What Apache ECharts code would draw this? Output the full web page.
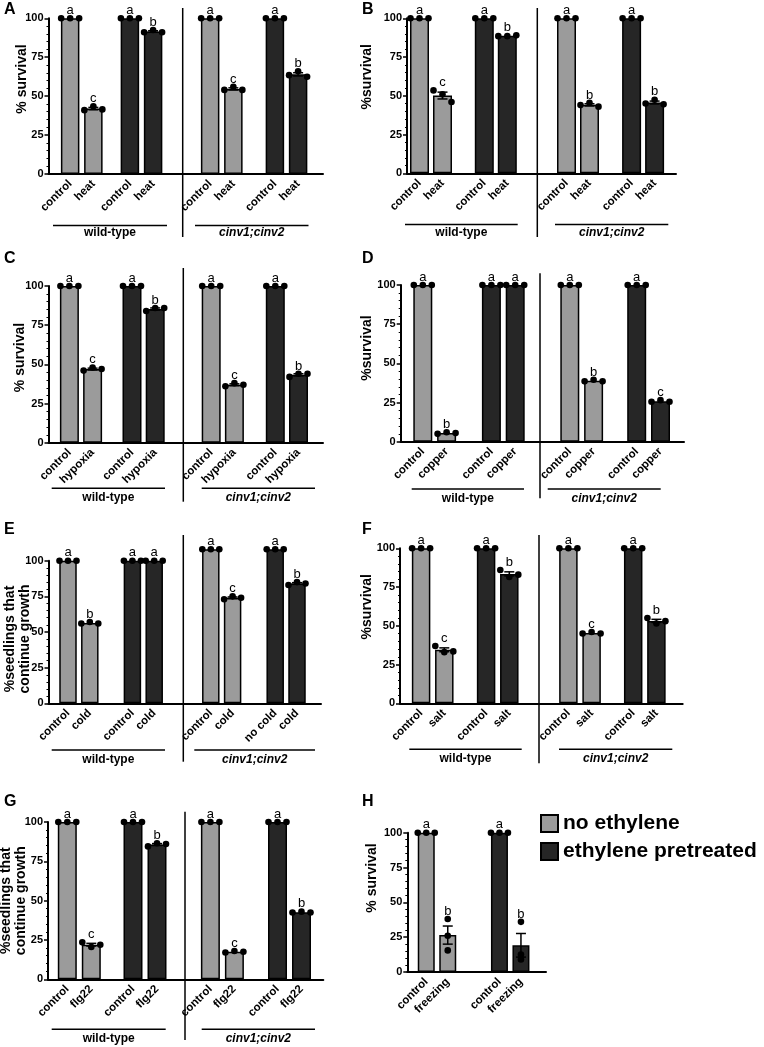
<!DOCTYPE html>
<html>
<head>
<meta charset="utf-8">
<script src="https://cdn.jsdelivr.net/npm/echarts@6/dist/echarts.min.js"></script>
<style>
  html, body { margin: 0; padding: 0; background: #fff; }
  #chart { width: 764px; height: 1047px; }
</style>
</head>
<body>
<div id="chart"></div>
<script>
const FONT = '"Liberation Sans", Arial, Helvetica, sans-serif';
const GREY = '#9b9b9b';
const DARK = '#262626';

const treatments = ['no ethylene', 'ethylene pretreated'];
const genotypes = ['wild-type', 'cinv1;cinv2'];
const yTicks = [0, 25, 50, 75, 100];
const panelTags = ['A', 'B', 'C', 'D', 'E', 'F', 'G', 'H'];
const yTitles = ['% survival', '%survival', '% survival', '%survival',
  '%seedlings that\ncontinue growth', '%survival', '%seedlings that\ncontinue growth', '% survival'];

// bar order: wt no-eth control, wt no-eth stress, wt eth control, wt eth stress, then the same for cinv1;cinv2
const labelsA = ['control', 'heat', 'control', 'heat', 'control', 'heat', 'control', 'heat'];
const repsA = [[100, 100, 100], [41, 43.5, 41.5], [100, 100, 100], [91, 92.5, 91],
  [100, 100, 100], [54, 56, 54], [100, 100, 100], [63.5, 66, 62.5]];
const lettersA = ['a', 'c', 'a', 'b', 'a', 'c', 'a', 'b'];

const labelsB = ['control', 'heat', 'control', 'heat', 'control', 'heat', 'control', 'heat'];
const repsB = [[100, 100, 100], [53.5, 51, 46], [100, 100, 100], [88.5, 88.5, 89],
  [100, 100, 100], [44, 45.5, 43], [100, 100, 100], [45, 47.5, 44.5]];
const lettersB = ['a', 'c', 'a', 'b', 'a', 'b', 'a', 'b'];

const labelsC = ['control', 'hypoxia', 'control', 'hypoxia', 'control', 'hypoxia', 'control', 'hypoxia'];
const repsC = [[100, 100, 100], [46, 48, 47], [100, 100, 100], [84, 86, 86],
  [100, 100, 100], [36, 38, 37], [100, 100, 100], [42, 44, 44]];
const lettersC = ['a', 'c', 'a', 'b', 'a', 'c', 'a', 'b'];

const labelsD = ['control', 'copper', 'control', 'copper', 'control', 'copper', 'control', 'copper'];
const repsD = [[100, 100, 100], [5, 6, 5.5], [100, 100, 100], [100, 100, 100],
  [100, 100, 100], [38.5, 39.5, 38.5], [100, 100, 100], [25.5, 26.5, 25.5]];
const lettersD = ['a', 'b', 'a', 'a', 'a', 'b', 'a', 'c'];

const labelsE = ['control', 'cold', 'control', 'cold', 'control', 'cold', 'no cold', 'cold'];
const repsE = [[100, 100, 100], [56, 57, 56], [100, 100, 100], [100, 100, 100],
  [108, 108, 108], [73, 75, 74], [108, 108, 108], [83, 85, 84]];
const lettersE = ['a', 'b', 'a', 'a', 'a', 'c', 'a', 'b'];

const labelsF = ['control', 'salt', 'control', 'salt', 'control', 'salt', 'control', 'salt'];
const repsF = [[100, 100, 100], [37, 33, 33.5], [100, 100, 100], [86, 81.5, 83],
  [100, 100, 100], [45, 46, 45], [100, 100, 100], [55, 51.5, 53]];
const lettersF = ['a', 'c', 'a', 'b', 'a', 'c', 'a', 'b'];

const labelsG = ['control', 'flg22', 'control', 'flg22', 'control', 'flg22', 'control', 'flg22'];
const repsG = [[100, 100, 100], [23.5, 20.5, 22], [100, 100, 100], [84.5, 86.5, 86],
  [100, 100, 100], [17, 18, 17.5], [100, 100, 100], [42.5, 43, 42.5]];
const lettersG = ['a', 'c', 'a', 'b', 'a', 'c', 'a', 'b'];

const labelsH = ['control', 'freezing', 'control', 'freezing'];
const repsH = [[100, 100, 100], [38, 26, 15.5], [100, 100, 100], [36, 12.5, 9]];
const lettersH = ['a', 'b', 'a', 'b'];

// page layout of each panel (pixels)
const layouts = [
  { x0: 48.5, x1: 323, top: 18.3, bottom: 174, pairs: [81.75, 141.5, 221.75, 286.5], d: 23.2, w: 20, spread: 9,
    sepX: 182.7, sepY: [8, 237], lineY: 225.5, groups: [[53, 167], [195, 308.5]], textY: 233, title: [21.7, 79], tag: [4, 10] },
  { x0: 407, x1: 676, top: 18.3, bottom: 173.3, pairs: [431, 495.8, 578, 643.1], d: 23, w: 20.5, spread: 9,
    sepX: 537.3, sepY: [8, 237], lineY: 224.5, groups: [[405, 517.7], [555, 668.3]], textY: 233, title: [366.7, 76.7], tag: [362, 10] },
  { x0: 48.5, x1: 323, top: 286, bottom: 442.7, pairs: [81, 143.6, 222.8, 286.9], d: 23.2, w: 20.5, spread: 9,
    sepX: 183.3, sepY: [268, 501.7], lineY: 488.3, groups: [[51.7, 165], [201.7, 315]], textY: 497.5, title: [20, 357.5], tag: [4, 259] },
  { x0: 400.7, x1: 684, top: 285, bottom: 441.7, pairs: [434.7, 503.3, 581.7, 648.6], d: 23.8, w: 20.5, spread: 9,
    sepX: 540, sepY: [273.3, 498.3], lineY: 489, groups: [[411.7, 524], [547.7, 660.7]], textY: 499, title: [366.7, 348], tag: [362, 259] },
  { x0: 48.5, x1: 321, top: 560.7, bottom: 703.3, pairs: [78.9, 143.3, 221.7, 286.1], d: 21.8, w: 19, spread: 8.5,
    sepX: 183.3, sepY: [535, 761.7], lineY: 750, groups: [[51.7, 165], [194.3, 315]], textY: 759.3, title: [18, 639], tag: [4, 530] },
  { x0: 400, x1: 682.7, top: 548.3, bottom: 703.3, pairs: [432.7, 497.7, 580, 644.8], d: 23.2, w: 20, spread: 9,
    sepX: 539, sepY: [535, 763.3], lineY: 749.3, groups: [[409.3, 521.7], [559, 672.3]], textY: 758.7, title: [366.7, 606.7], tag: [362, 530] },
  { x0: 48, x1: 323.3, top: 822, bottom: 979.3, pairs: [79.3, 145, 222.4, 289.5], d: 24, w: 20.5, spread: 9,
    sepX: 185, sepY: [811.7, 1040], lineY: 1029.3, groups: [[51.7, 165.7], [201.7, 315]], textY: 1038.3, title: [14, 900.7], tag: [4, 802] },
  { x0: 407.3, x1: 546, top: 832.7, bottom: 972, pairs: [437, 510.2], d: 21.5, w: 18.5, spread: 8.5,
    title: [372, 878], tag: [362, 802] }
];

const panels = [
  { labels: labelsA, reps: repsA, letters: lettersA },
  { labels: labelsB, reps: repsB, letters: lettersB },
  { labels: labelsC, reps: repsC, letters: lettersC },
  { labels: labelsD, reps: repsD, letters: lettersD },
  { labels: labelsE, reps: repsE, letters: lettersE },
  { labels: labelsF, reps: repsF, letters: lettersF },
  { labels: labelsG, reps: repsG, letters: lettersG },
  { labels: labelsH, reps: repsH, letters: lettersH }
];

const mean = (a) => a.reduce((s, v) => s + v, 0) / a.length;
const sem = (a) => {
  const m = mean(a);
  const v = a.reduce((s, x) => s + (x - m) * (x - m), 0) / (a.length - 1);
  return Math.sqrt(v / a.length);
};
const seg = (x1, y1, x2, y2, w) => ({
  type: 'line', shape: { x1, y1, x2, y2 }, style: { stroke: '#000', lineWidth: w || 1.5 }
});

const option = {
  animation: false,
  backgroundColor: '#fff',
  legend: {
    data: treatments,
    orient: 'vertical',
    left: 535,
    top: 808,
    icon: 'rect',
    itemWidth: 17,
    itemHeight: 17,
    itemGap: 7,
    selectedMode: false,
    textStyle: { fontFamily: FONT, fontWeight: 'bold', fontSize: 21, color: '#000' }
  },
  grid: [], xAxis: [], yAxis: [], series: [], graphic: []
};

const yMin = yTicks[0];
const yMax = yTicks[yTicks.length - 1];

panels.forEach((p, pi) => {
  const L = layouts[pi];
  const h = L.bottom - L.top;

  // frame: y axis with ticks and the long x axis line
  const fi = option.grid.length;
  option.grid.push({ left: L.x0, top: L.top, width: L.x1 - L.x0, height: h });
  option.xAxis.push({
    gridIndex: fi, type: 'category', data: [''],
    axisLine: { lineStyle: { color: '#000', width: 2 } },
    axisTick: { show: false }, axisLabel: { show: false }
  });
  option.yAxis.push({
    gridIndex: fi, type: 'value', min: yMin, max: yMax, interval: yTicks[1] - yTicks[0],
    axisLine: { show: true, lineStyle: { color: '#000', width: 2 } },
    axisTick: { show: true, length: 4, lineStyle: { color: '#000', width: 1.5 } },
    minorTick: { show: true, splitNumber: 5, length: 2, lineStyle: { color: '#000', width: 1 } },
    splitLine: { show: false },
    axisLabel: { color: '#000', fontFamily: FONT, fontWeight: 'bold', fontSize: 11, margin: 5 }
  });

  // one small grid per pair of bars
  L.pairs.forEach((pc, k) => {
    const g = option.grid.length;
    const reps = p.reps.slice(2 * k, 2 * k + 2);
    const letters = p.letters.slice(2 * k, 2 * k + 2);
    const tr = k % 2;
    option.grid.push({ left: pc - L.d, top: L.top, width: 2 * L.d, height: h });
    option.xAxis.push({
      gridIndex: g, type: 'category', data: p.labels.slice(2 * k, 2 * k + 2),
      axisLine: { show: false }, axisTick: { show: false },
      axisLabel: { interval: 0, rotate: 45, margin: 8, color: '#000', fontFamily: FONT, fontWeight: 'bold', fontSize: 11.5 }
    });
    option.yAxis.push({ gridIndex: g, type: 'value', min: yMin, max: yMax, show: false });
    option.series.push({
      type: 'bar', name: treatments[tr], xAxisIndex: g, yAxisIndex: g,
      data: reps.map(mean), barWidth: L.w - 1.5, clip: false, silent: true,
      itemStyle: { color: tr ? DARK : GREY, borderColor: '#000', borderWidth: 1.5 }
    });
    option.series.push({
      type: 'custom', xAxisIndex: g, yAxisIndex: g, clip: false, silent: true, z: 5,
      data: reps.map((r, j) => [j, mean(r)]),
      renderItem: (params, api) => {
        const j = params.dataIndex;
        const r = reps[j];
        const m = mean(r), s = sem(r);
        const cx = api.coord([j, m])[0];
        const kids = [];
        let topY = api.coord([j, Math.max(...r)])[1] - 3.3;
        if (s > 0.4) {
          const yt = api.coord([j, m + s])[1];
          const yb = api.coord([j, m - s])[1];
          kids.push(seg(cx, yt, cx, yb), seg(cx - 5, yt, cx + 5, yt), seg(cx - 5, yb, cx + 5, yb));
          topY = Math.min(topY, yt);
        }
        // replicates that sit close together are spread across the bar, scattered ones stay centred
        const spread = Math.max(...r) - Math.min(...r) > 15 ? 0 : L.spread;
        const offs = [-spread, 0, spread];
        r.forEach((v, i) => kids.push({
          type: 'circle', shape: { cx: cx + offs[i], cy: api.coord([j, v])[1], r: 3.3 }, style: { fill: '#000' }
        }));
        kids.push({
          type: 'text', x: cx, y: topY + 2,
          style: { text: letters[j], fill: '#000', font: '13px ' + FONT, align: 'center', verticalAlign: 'bottom' }
        });
        return { type: 'group', children: kids };
      }
    });
  });

  // separators, genotype underlines and labels, titles
  if (L.sepX) option.graphic.push(seg(L.sepX, L.sepY[0], L.sepX, L.sepY[1]));
  if (L.groups) {
    L.groups.forEach((gx, gi) => {
      option.graphic.push(seg(gx[0], L.lineY, gx[1], L.lineY));
      option.graphic.push({
        type: 'text', x: (gx[0] + gx[1]) / 2, y: L.textY,
        style: {
          text: genotypes[gi], fill: '#000', align: 'center', verticalAlign: 'middle',
          font: (gi ? 'italic ' : '') + 'bold 12px ' + FONT
        }
      });
    });
  }
  option.graphic.push({
    type: 'text', x: L.title[0], y: L.title[1], rotation: Math.PI / 2,
    style: { text: yTitles[pi], fill: '#000', align: 'center', verticalAlign: 'middle', lineHeight: 15, font: 'bold 14px ' + FONT }
  });
  option.graphic.push({
    type: 'text', x: L.tag[0], y: L.tag[1],
    style: { text: panelTags[pi], fill: '#000', align: 'left', verticalAlign: 'middle', font: 'bold 16px ' + FONT }
  });
});

const chart = echarts.init(document.getElementById('chart'), null, { renderer: 'canvas' });
chart.setOption(option);
</script>
</body>
</html>
